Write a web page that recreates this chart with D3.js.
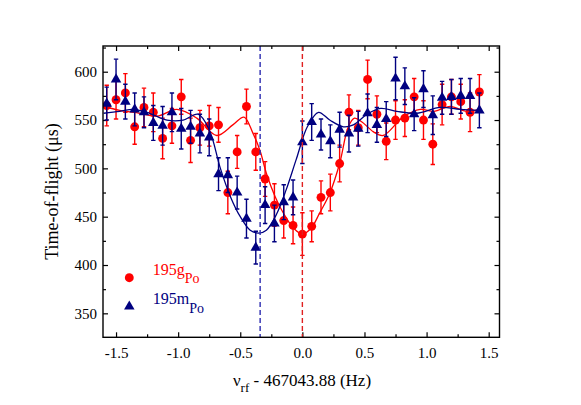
<!DOCTYPE html>
<html>
<head>
<meta charset="utf-8">
<script src="https://cdn.jsdelivr.net/npm/d3@7"></script>
<style>
  body { margin: 0; background: #fff; }
  svg text { font-family: 'Liberation Serif', 'Times New Roman', Times, 'DejaVu Serif', serif !important; }
</style>
</head>
<body>
<div id="chart"></div>
<script>
// measured points (rf offset in Hz, TOF in us)
const freqs = [-1.575, -1.500, -1.425, -1.350, -1.275, -1.200, -1.125, -1.050, -0.975, -0.900,
  -0.825, -0.750, -0.675, -0.600, -0.525, -0.450, -0.375, -0.300, -0.225, -0.150, -0.075,
  0.000, 0.075, 0.150, 0.225, 0.300, 0.375, 0.450, 0.525, 0.600, 0.675, 0.750, 0.825,
  0.900, 0.975, 1.050, 1.125, 1.200, 1.275, 1.350, 1.425];

const groundTof = [565, 571, 578, 543, 563, 558, 531, 544, 574, 529, 542, 544, 545, 475, 517,
  564, 517, 489, 462, 446, 441, 432, 440, 470, 475, 505, 558, 542, 592, 556, 528, 550, 552,
  574, 550, 525, 566, 574, 569, 558, 579];
const groundErr = [21, 20, 20, 18, 20, 20, 21, 18, 18, 23, 18, 21, 18, 22, 17, 18, 19, 18, 22,
  18, 19, 22, 16, 17, 19, 19, 18, 18, 20, 19, 19, 20, 19, 19, 20, 21, 21, 18, 18, 20, 18];

const isomerTof = [567, 592, 569, 561, 558, 547, 544, 558, 541, 543, 536, 532, 494, 493, 475,
  448, 418, 462, 443, 465, 470, 527, 548, 535, 528, 540, 536, 541, 557, 545, 551, 593, 585,
  556, 582, 555, 573, 574, 575, 575, 560];
const isomerErr = [17, 21, 18, 17, 16, 18, 20, 20, 21, 17, 20, 19, 17, 18, 17, 20, 17, 19, 19,
  18, 18, 22, 19, 16, 17, 18, 19, 18, 20, 18, 18, 22, 19, 17, 19, 20, 17, 18, 18, 18, 18];

// fitted curves
const groundFitX = [-1.60, -1.47, -1.31, -1.17, -1.01, -0.85, -0.69, -0.56, -0.47, -0.40, -0.34,
  -0.29, -0.22, -0.15, -0.07, 0.00, 0.07, 0.14, 0.22, 0.30, 0.37, 0.42, 0.48, 0.57, 0.65, 0.81,
  0.95, 1.06, 1.19, 1.32, 1.43];
const groundFitY = [564, 560, 557, 554, 561, 552, 534, 545, 553, 537, 518, 495, 471, 453, 438,
  432, 438, 454, 474, 505, 543, 552, 548, 538, 534, 553, 561, 559, 564, 559, 561];

const isomerFitX = [-1.60, -1.47, -1.36, -1.23, -1.09, -0.96, -0.84, -0.75, -0.66, -0.58, -0.50,
  -0.42, -0.35, -0.29, -0.21, -0.13, -0.05, 0.04, 0.13, 0.22, 0.33, 0.41, 0.52, 0.63, 0.76,
  0.92, 1.11, 1.27, 1.43];
const isomerFitY = [557, 559, 561, 557, 550, 550, 556, 540, 500, 471, 450, 436, 433, 436, 452,
  478, 509, 543, 558, 550, 543, 545, 556, 562, 559, 557, 563, 561, 560];

const centres = [-0.34, 0.0];

const xMajor = [-1.5, -1.0, -0.5, 0.0, 0.5, 1.0, 1.5];
const xMinor = [-1.25, -0.75, -0.25, 0.25, 0.75, 1.25];
const yMajor = [350, 400, 450, 500, 550, 600];
const yMinor = [375, 425, 475, 525, 575, 625];

const red = '#ff0000';
const navy = '#000080';
const serif = 'Liberation Serif, Times New Roman, Times, DejaVu Serif, serif';

let svgDimensions = [581, 405];
let svg = d3.select('#chart')
  .append('svg')
    .attr('width', svgDimensions[0])
    .attr('height', svgDimensions[1])
    .attr('font-family', serif);

const plotLeft = 103, plotRight = 499.5, plotTop = 46, plotBottom = 337.3;

let x = d3.scaleLinear()
  .domain([-1.605, 1.587])
  .range([plotLeft, plotRight]);
let y = d3.scaleLinear()
  .domain([325.2, 626.6])
  .range([plotBottom, plotTop]);

svg.append('clipPath')
  .attr('id', 'plot-clip')
  .append('rect')
    .attr('x', plotLeft).attr('y', plotTop)
    .attr('width', plotRight - plotLeft).attr('height', plotBottom - plotTop);

// axes: ticks point inward on all four sides
const tickStyle = (g) => {
  g.attr('font-family', serif).attr('font-size', 15);
  g.select('.domain').remove();
  g.selectAll('line').attr('stroke', '#000').attr('stroke-width', 1.2);
  g.selectAll('text').attr('fill', '#000');
};

svg.append('g')
  .attr('transform', `translate(0,${plotBottom})`)
  .call(d3.axisBottom(x).tickValues(xMajor).tickSize(-5).tickPadding(10)
    .tickFormat(d => d3.format('.1f')(d).replace('−', '-')))
  .call(tickStyle);
svg.append('g')
  .attr('transform', `translate(0,${plotBottom})`)
  .call(d3.axisBottom(x).tickValues(xMinor).tickSize(-3).tickFormat(''))
  .call(tickStyle);
svg.append('g')
  .attr('transform', `translate(0,${plotTop})`)
  .call(d3.axisTop(x).tickValues(xMajor).tickSize(-5).tickFormat(''))
  .call(tickStyle);
svg.append('g')
  .attr('transform', `translate(0,${plotTop})`)
  .call(d3.axisTop(x).tickValues(xMinor).tickSize(-3).tickFormat(''))
  .call(tickStyle);

svg.append('g')
  .attr('transform', `translate(${plotLeft},0)`)
  .call(d3.axisLeft(y).tickValues(yMajor).tickSize(-5).tickPadding(6))
  .call(tickStyle);
svg.append('g')
  .attr('transform', `translate(${plotLeft},0)`)
  .call(d3.axisLeft(y).tickValues(yMinor).tickSize(-3).tickFormat(''))
  .call(tickStyle);
svg.append('g')
  .attr('transform', `translate(${plotRight},0)`)
  .call(d3.axisRight(y).tickValues(yMajor).tickSize(-5).tickFormat(''))
  .call(tickStyle);
svg.append('g')
  .attr('transform', `translate(${plotRight},0)`)
  .call(d3.axisRight(y).tickValues(yMinor).tickSize(-3).tickFormat(''))
  .call(tickStyle);

let plot = svg.append('g').attr('clip-path', 'url(#plot-clip)');

let line = d3.line()
  .x(d => x(d[0]))
  .y(d => y(d[1]))
  .curve(d3.curveCatmullRom.alpha(0.5));

const series = [
  { xs: freqs, ys: groundTof, errs: groundErr, fx: groundFitX, fy: groundFitY, color: red,
    symbol: d3.symbolCircle, size: 62 },
  { xs: freqs, ys: isomerTof, errs: isomerErr, fx: isomerFitX, fy: isomerFitY, color: navy,
    symbol: d3.symbolTriangle, size: 48 }
];

series.forEach((s) => {
  plot.append('path')
    .datum(d3.zip(s.fx, s.fy))
    .attr('d', line)
    .attr('fill', 'none')
    .attr('stroke', s.color)
    .attr('stroke-width', 1.3);

  let pts = d3.zip(s.xs, s.ys, s.errs);
  let bars = plot.append('g')
    .attr('stroke', s.color)
    .attr('stroke-width', 1.4);
  bars.selectAll('line.v')
    .data(pts)
    .enter()
    .append('line')
      .attr('x1', d => x(d[0])).attr('x2', d => x(d[0]))
      .attr('y1', d => y(d[1] - d[2])).attr('y2', d => y(d[1] + d[2]));
  bars.selectAll('line.top')
    .data(pts)
    .enter()
    .append('line')
      .attr('x1', d => x(d[0]) - 2.2).attr('x2', d => x(d[0]) + 2.2)
      .attr('y1', d => y(d[1] + d[2])).attr('y2', d => y(d[1] + d[2]));
  bars.selectAll('line.bot')
    .data(pts)
    .enter()
    .append('line')
      .attr('x1', d => x(d[0]) - 2.2).attr('x2', d => x(d[0]) + 2.2)
      .attr('y1', d => y(d[1] - d[2])).attr('y2', d => y(d[1] - d[2]));

  plot.append('g')
    .selectAll('path')
    .data(pts)
    .enter()
    .append('path')
      .attr('transform', d => `translate(${x(d[0])},${y(d[1])})`)
      .attr('d', d3.symbol().type(s.symbol).size(s.size))
      .attr('fill', s.color);
});

// resonance centres
plot.selectAll('line.centre')
  .data(centres)
  .enter()
  .append('line')
    .attr('x1', d => x(d)).attr('x2', d => x(d))
    .attr('y1', plotTop).attr('y2', plotBottom)
    .attr('stroke', (d, i) => i === 0 ? '#2b2bb0' : '#e02020')
    .attr('stroke-width', 1.4)
    .attr('stroke-dasharray', '5,3');

svg.append('rect')
  .attr('x', plotLeft).attr('y', plotTop)
  .attr('width', plotRight - plotLeft).attr('height', plotBottom - plotTop)
  .attr('fill', 'none')
  .attr('stroke', '#000')
  .attr('stroke-width', 1.4);

// legend
const legend = [
  { main: '195g', sub: 'Po', color: red, symbol: d3.symbolCircle, size: 62, cy: 277.7, base: 274.5 },
  { main: '195m', sub: 'Po', color: navy, symbol: d3.symbolTriangle, size: 48, cy: 306.5, base: 304 }
];
legend.forEach((l) => {
  svg.append('path')
    .attr('transform', `translate(129.3,${l.cy})`)
    .attr('d', d3.symbol().type(l.symbol).size(l.size))
    .attr('fill', l.color);
  let t = svg.append('text')
    .attr('x', 152.7)
    .attr('y', l.base)
    .attr('fill', l.color)
    .attr('font-size', 16);
  t.append('tspan').text(l.main);
  t.append('tspan').attr('dy', 8.5).attr('font-size', 14).text(l.sub);
});

// axis titles
let xt = svg.append('text')
  .attr('x', 302)
  .attr('y', 385.7)
  .attr('text-anchor', 'middle')
  .attr('fill', '#000')
  .attr('font-size', 17);
xt.append('tspan').text('ν');
xt.append('tspan').attr('dy', 6).attr('font-size', 13).text('rf');
xt.append('tspan').attr('dy', -6).text(' - 467043.88 (Hz)');

svg.append('text')
  .attr('transform', 'translate(58,191.6) rotate(-90)')
  .attr('text-anchor', 'middle')
  .attr('fill', '#000')
  .attr('font-size', 18)
  .text('Time-of-flight (μs)');
</script>
</body>
</html>
